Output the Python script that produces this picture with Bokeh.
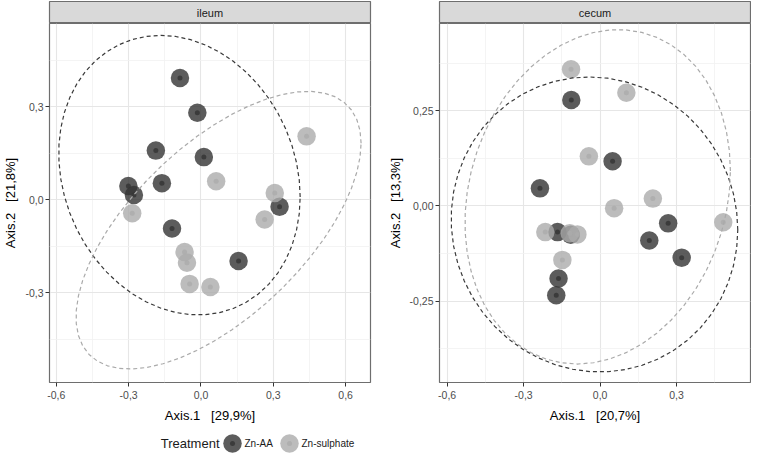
import numpy as np
from bokeh.plotting import figure
from bokeh.models import Range1d, FixedTicker, Label
from bokeh.layouts import row, column
from bokeh.embed import file_html
from bokeh.resources import INLINE
from bokeh.core.properties import value

FONT = "Liberation Sans"
NB = "\u00a0"

# ---------------- data ----------------
treatments = ["Zn-AA", "Zn-sulphate"]
facets = ["ileum", "cecum"]

ileum_aa_x = [-0.087, -0.015, -0.187, 0.012, -0.162, -0.301, -0.278, 0.326, -0.120, 0.156]
ileum_aa_y = [0.392, 0.280, 0.158, 0.137, 0.053, 0.044, 0.015, -0.023, -0.093, -0.198]
ileum_zs_x = [0.438, 0.063, 0.306, -0.285, 0.264, -0.068, -0.058, -0.047, 0.039]
ileum_zs_y = [0.204, 0.059, 0.021, -0.044, -0.064, -0.169, -0.204, -0.272, -0.282]

cecum_aa_x = [-0.113, 0.049, -0.236, -0.167, -0.115, 0.267, 0.193, 0.320, -0.163, -0.172]
cecum_aa_y = [0.278, 0.117, 0.046, -0.069, -0.076, -0.046, -0.091, -0.136, -0.191, -0.235]
cecum_zs_x = [-0.114, 0.103, -0.044, 0.207, 0.055, 0.483, -0.215, -0.119, -0.089, -0.148]
cecum_zs_y = [0.359, 0.297, 0.130, 0.019, -0.006, -0.043, -0.069, -0.072, -0.075, -0.142]

x_ticks = [-0.6, -0.3, 0.0, 0.3, 0.6]
x_tick_labels = ["-0,6", "-0,3", "0,0", "0,3", "0,6"]
x_minor = [-0.45, -0.15, 0.15, 0.45]

ileum_y_ticks = [-0.3, 0.0, 0.3]
ileum_y_tick_labels = ["-0,3", "0,0", "0,3"]
ileum_y_minor = [-0.45, -0.15, 0.15, 0.45]

cecum_y_ticks = [-0.25, 0.0, 0.25]
cecum_y_tick_labels = ["-0,25", "0,00", "0,25"]
cecum_y_minor = [-0.375, -0.125, 0.125, 0.375]

# three spaces between parts (non-breaking so the SVG keeps them)
ileum_xlab = "Axis.1 " + NB + NB + "[29,9%]"
ileum_ylab = "Axis.2 " + NB + NB + "[21,8%]"
cecum_xlab = "Axis.1 " + NB + NB + "[20,7%]"
cecum_ylab = "Axis.2 " + NB + NB + "[13,3%]"

legend_title = "Treatment"

# ---------------- styles ----------------
COL_AA = "#333333"
COL_ZS = "#ababab"
ALPHA = 0.8
BORDER = "#6e6e6e"
OUTER_SIZE = 18.5
DOT_SIZE = 5


# ------------- stat_ellipse (type = "t") -------------
def cov_trob(x, nu=5, maxit=25, tol=0.01):
    x = np.asarray(x, float)
    n, p = x.shape
    wt = np.ones(n)
    loc = x.mean(0)
    w = np.sqrt(wt)
    X = x - loc
    for _ in range(maxit):
        w0 = w
        X = x - loc
        _, d, vt = np.linalg.svd(np.sqrt(wt / wt.sum())[:, None] * X, full_matrices=False)
        wX = X @ vt.T @ np.diag(1.0 / d)
        Q = (wX ** 2).sum(1)
        w = (wt * (nu + p)) / (nu + Q)
        loc = (w[:, None] * x).sum(0) / w.sum()
        if np.all(np.abs(w - w0) < tol):
            break
    sw = np.sqrt(w)[:, None] * X
    cov = sw.T @ sw / wt.sum()
    return loc, cov


def t_ellipse(xs, ys, level=0.95, segments=51):
    pts = np.column_stack([xs, ys])
    center, shape = cov_trob(pts)
    dfn, dfd = 2, len(xs) - 1
    fq = dfd / 2.0 * ((1 - level) ** (-2.0 / dfd) - 1)
    radius = np.sqrt(dfn * fq)
    ang = np.arange(segments + 1) * 2 * np.pi / segments
    circle = np.column_stack([np.cos(ang), np.sin(ang)])
    R = np.linalg.cholesky(shape).T
    e = center + radius * (circle @ R)
    return e[:, 0], e[:, 1]


def make_strip(name, width, bl, br):
    s = figure(width=width, height=23, x_range=Range1d(0, 1), y_range=Range1d(0, 1),
               x_axis_type=None, y_axis_type=None, toolbar_location=None,
               output_backend="svg", min_border_left=bl, min_border_right=br,
               min_border_top=1, min_border_bottom=0,
               background_fill_color="#d9d9d9", border_fill_color="white",
               outline_line_color=BORDER, outline_line_width=1.2)
    s.text(x=[0.5], y=[0.5], text=[name], text_align="center", text_baseline="middle",
           text_font=value(FONT), text_font_size="11px", text_color="#1a1a1a")
    return s


def make_panel(aa_x, aa_y, zs_x, zs_y, xr, yr, yt, ytl, ym, xlab, ylab, width, bl, br):
    p = figure(width=width, height=402, x_range=Range1d(*xr), y_range=Range1d(*yr),
               toolbar_location=None, output_backend="svg",
               min_border_left=bl, min_border_right=br, min_border_top=0, min_border_bottom=42,
               background_fill_color="white", border_fill_color="white",
               outline_line_color=BORDER, outline_line_width=1.2)
    p.xaxis.ticker = FixedTicker(ticks=x_ticks, minor_ticks=x_minor)
    p.yaxis.ticker = FixedTicker(ticks=yt, minor_ticks=ym)
    p.xaxis.major_label_overrides = {t: l for t, l in zip(x_ticks, x_tick_labels)}
    p.yaxis.major_label_overrides = {t: l for t, l in zip(yt, ytl)}
    for ax in (p.xaxis, p.yaxis):
        ax.axis_line_color = None
        ax.minor_tick_line_color = None
        ax.major_tick_line_color = "#333333"
        ax.major_tick_out = 4
        ax.major_tick_in = 0
        ax.major_label_text_font = FONT
        ax.major_label_text_font_size = "10.5px"
        ax.major_label_text_color = "#4d4d4d"
        ax.axis_label_text_font = FONT
        ax.axis_label_text_font_size = "13px"
        ax.axis_label_text_font_style = "normal"
        ax.axis_label_text_color = "#000000"
    p.xaxis.major_label_standoff = 4
    p.xaxis.axis_label_standoff = 6
    p.yaxis.major_label_standoff = 2
    p.yaxis.axis_label_standoff = 4
    p.xaxis.axis_label = xlab
    p.yaxis.axis_label = ylab
    for g in (p.xgrid, p.ygrid):
        g.grid_line_color = "#e6e6e6"
        g.grid_line_width = 1.1
        g.minor_grid_line_color = "#f1f1f1"
        g.minor_grid_line_width = 0.8

    # points: big translucent disc + small central dot
    for xs, ys, col in ((aa_x, aa_y, COL_AA), (zs_x, zs_y, COL_ZS)):
        p.scatter(xs, ys, marker="circle", size=OUTER_SIZE, fill_color=col, fill_alpha=ALPHA,
                  line_color=None)
        p.scatter(xs, ys, marker="circle", size=DOT_SIZE, fill_color=col, fill_alpha=ALPHA,
                  line_color=None)
    # 95% t ellipses
    for xs, ys, col in ((aa_x, aa_y, "#3a3a3a"), (zs_x, zs_y, "#aaaaaa")):
        ex, ey = t_ellipse(xs, ys)
        p.line(ex, ey, line_color=col, line_width=1.2, line_dash="4 3")
    return p


LW, RW = 384, 367
s1 = make_strip(facets[0], LW, 42, 14)
p1 = make_panel(ileum_aa_x, ileum_aa_y, ileum_zs_x, ileum_zs_y, (-0.628, 0.703), (-0.590, 0.568),
                ileum_y_ticks, ileum_y_tick_labels, ileum_y_minor, ileum_xlab, ileum_ylab, LW, 42, 14)
s2 = make_strip(facets[1], RW, 52, 1)
p2 = make_panel(cecum_aa_x, cecum_aa_y, cecum_zs_x, cecum_zs_y, (-0.630, 0.590), (-0.464, 0.479),
                cecum_y_ticks, cecum_y_tick_labels, cecum_y_minor, cecum_xlab, cecum_ylab, RW, 52, 1)

# ---------------- legend strip (pixel-scaled ranges) ----------------
LEG_W, LEG_H = LW + RW, 28
leg = figure(width=LEG_W, height=LEG_H, x_range=Range1d(0, LEG_W), y_range=Range1d(0, LEG_H),
             x_axis_type=None, y_axis_type=None, toolbar_location=None, output_backend="svg",
             min_border=0, outline_line_color=None, border_fill_color="white",
             background_fill_color="white")
LEG_Y = 10            # vertical centre of the legend row
TITLE_RIGHT = 219     # right edge of the legend title
KEY_GAP = 13          # title -> first key centre
LABEL_OFF = 12        # key centre -> label start
label_widths = [29, 53]
ITEM_GAP = 16         # label end -> next key centre

leg.add_layout(Label(x=TITLE_RIGHT, y=LEG_Y, x_units="data", y_units="data", text=legend_title,
                     text_align="right", text_baseline="middle", text_font=FONT,
                     text_font_size="13px", text_color="#1a1a1a"))
kx = TITLE_RIGHT + KEY_GAP
key_x, lab_x = [], []
for wdt in label_widths:
    key_x.append(kx)
    lab_x.append(kx + LABEL_OFF)
    kx = kx + LABEL_OFF + wdt + ITEM_GAP
for i, col in enumerate((COL_AA, COL_ZS)):
    leg.scatter([key_x[i]], [LEG_Y], marker="circle", size=OUTER_SIZE, fill_color=col,
                fill_alpha=ALPHA, line_color=None)
    leg.scatter([key_x[i]], [LEG_Y], marker="circle", size=DOT_SIZE, fill_color=col,
                fill_alpha=ALPHA, line_color=None)
leg.text(x=lab_x, y=[LEG_Y] * len(lab_x), text=treatments, text_align="left",
         text_baseline="middle", text_font=value(FONT), text_font_size="10px",
         text_color="#1a1a1a")

layout = column(row(column(s1, p1), column(s2, p2)), leg)
open("out.html", "w").write(file_html(layout, INLINE))
